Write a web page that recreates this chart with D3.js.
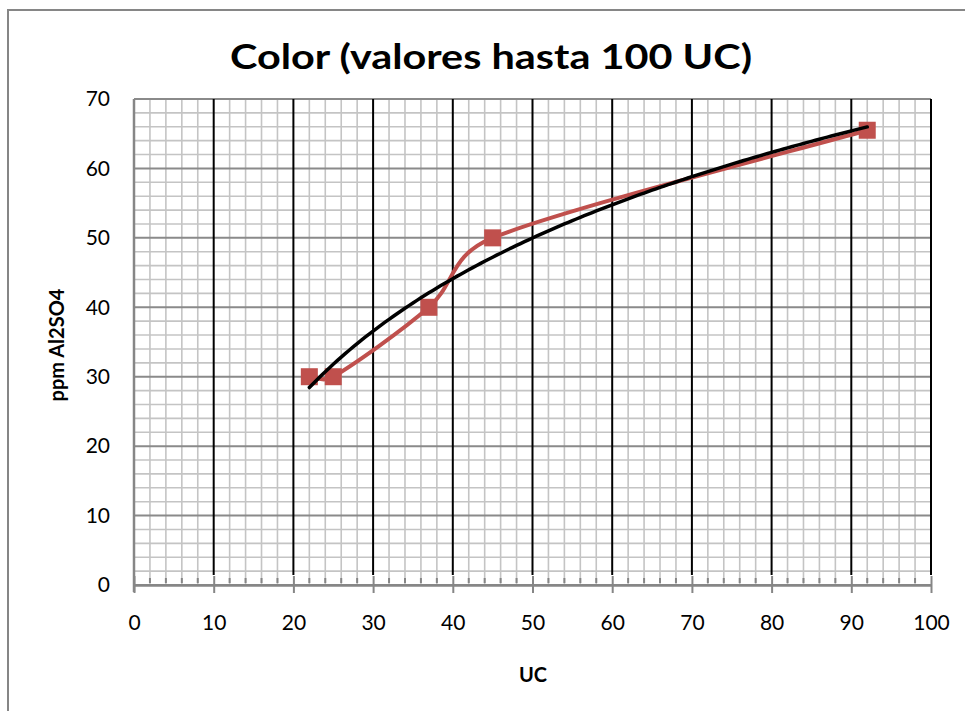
<!DOCTYPE html>
<html><head><meta charset="utf-8">
<script src="https://cdn.jsdelivr.net/npm/d3@7/dist/d3.min.js"></script>
<style>
html,body{margin:0;padding:0;background:#fff;}
svg{display:block;}
text{font-family:Lato,"Open Sans","Liberation Sans",sans-serif;fill:#000;}
</style></head>
<body>
<svg id="chart" width="965" height="711"></svg>
<script>
// ---- data ----
const ucValues  = [22, 25, 37, 45, 92];
const ppmValues = [30, 30, 40, 50, 65.5];
const xTickValues = [0, 10, 20, 30, 40, 50, 60, 70, 80, 90, 100];
const yTickValues = [0, 10, 20, 30, 40, 50, 60, 70];
const titleText = "Color (valores hasta 100 UC)";
const xTitle = "UC";
const yTitle = "ppm Al2SO4";

const svg = d3.select("#chart");
const W = 965, H = 711;
const margin = {left: 134, right: 34, top: 99, bottom: 126};
const x = d3.scaleLinear().domain([0, 100]).range([margin.left, W - margin.right]);
const y = d3.scaleLinear().domain([0, 70]).range([H - margin.bottom, margin.top]);

// outer chart border
svg.append("rect").attr("x", 8).attr("y", 10).attr("width", W + 20).attr("height", H + 20)
  .attr("fill", "#fff").attr("stroke", "#868686").attr("stroke-width", 2);

// minor grid
const minorX = d3.range(0, 101, 2).filter(v => v % 10 !== 0);
const minorY = d3.range(0, 71, 2).filter(v => v % 10 !== 0);
const g = svg.append("g");
g.selectAll(".mx").data(minorX).join("line")
  .attr("x1", d => x(d)).attr("x2", d => x(d)).attr("y1", y(70)).attr("y2", y(0))
  .attr("stroke", "#c4c4c4").attr("stroke-width", 1.6);
g.selectAll(".my").data(minorY).join("line")
  .attr("x1", x(0)).attr("x2", x(100)).attr("y1", d => y(d)).attr("y2", d => y(d))
  .attr("stroke", "#c4c4c4").attr("stroke-width", 1.6);
// major horizontal grid (grey)
g.selectAll(".My").data(yTickValues).join("line")
  .attr("x1", x(0)).attr("x2", x(100)).attr("y1", d => y(d)).attr("y2", d => y(d))
  .attr("stroke", "#8a8a8a").attr("stroke-width", 2);
// major vertical grid (black)
g.selectAll(".Mx").data(xTickValues.filter(v => v > 0)).join("line")
  .attr("x1", d => x(d)).attr("x2", d => x(d)).attr("y1", y(70)).attr("y2", y(0) - 10)
  .attr("stroke", "#000").attr("stroke-width", 2);

// x axis with D3
const xAxis = svg.append("g").attr("transform", `translate(0,${y(0)})`)
  .call(d3.axisBottom(x).tickValues(xTickValues).tickSize(8).tickPadding(22).tickSizeOuter(0));
xAxis.select(".domain").attr("stroke", "#868686").attr("stroke-width", 2.5);
xAxis.selectAll(".tick line").attr("stroke", "#868686").attr("stroke-width", 2).attr("y1", -9);
xAxis.selectAll(".tick text").style("font-size", "21px").attr("dy", "0.71em");
// minor ticks (inside)
xAxis.selectAll(".minor").data(minorX).join("line")
  .attr("x1", d => x(d)).attr("x2", d => x(d)).attr("y1", -7).attr("y2", -2)
  .attr("stroke", "#868686").attr("stroke-width", 2);

// y axis with D3
const yAxis = svg.append("g").attr("transform", `translate(${x(0)},0)`)
  .call(d3.axisLeft(y).tickValues(yTickValues).tickSize(0).tickPadding(24).tickSizeOuter(0));
yAxis.select(".domain").attr("stroke", "#868686").attr("stroke-width", 2.5)
  .attr("d", `M0,${y(70)}V${y(0) + 7}`);
yAxis.selectAll(".tick text").style("font-size", "21px");

// red smoothed series (spreadsheet-style Bezier smoothing, in screen space)
const pts = ucValues.map((v, i) => [v, ppmValues[i]]);
function smoothPath(data) {
  const p = data.map(d => [x(d[0]), y(d[1])]);
  const n = p.length;
  const path = d3.path();
  path.moveTo(p[0][0], p[0][1]);
  const dist = (a, b) => Math.hypot(b[0] - a[0], b[1] - a[1]);
  for (let i = 0; i < n - 1; i++) {
    const p0 = p[Math.max(i - 1, 0)], p1 = p[i], p2 = p[i + 1], p3 = p[Math.min(i + 2, n - 1)];
    const half = dist(p1, p2) / 2;
    let o1 = [(p2[0] - p0[0]) / 6, (p2[1] - p0[1]) / 6];
    let o2 = [(p3[0] - p1[0]) / 6, (p3[1] - p1[1]) / 6];
    const l1 = Math.hypot(o1[0], o1[1]), l2 = Math.hypot(o2[0], o2[1]);
    if (l1 > half) o1 = [o1[0] * half / l1, o1[1] * half / l1];
    if (l2 > half) o2 = [o2[0] * half / l2, o2[1] * half / l2];
    path.bezierCurveTo(p1[0] + o1[0], p1[1] + o1[1], p2[0] - o2[0], p2[1] - o2[1], p2[0], p2[1]);
  }
  return path.toString();
}
svg.append("path").attr("d", smoothPath(pts))
  .attr("fill", "none").attr("stroke", "#c0504d").attr("stroke-width", 4).attr("stroke-linejoin", "round");
const ms = 17;
svg.selectAll(".mk").data(pts).join("rect")
  .attr("x", d => x(d[0]) - ms / 2).attr("y", d => y(d[1]) - ms / 2)
  .attr("width", ms).attr("height", ms).attr("fill", "#c0504d");

// logarithmic trendline (least squares fit of the series, as in the spreadsheet)
const lx = ucValues.map(Math.log);
const mx = d3.mean(lx), my = d3.mean(ppmValues);
const a = d3.sum(lx, (v, i) => (v - mx) * (ppmValues[i] - my)) / d3.sum(lx, v => (v - mx) * (v - mx));
const b = my - a * mx;
const [xmin, xmax] = d3.extent(ucValues);
const trend = d3.range(xmin, xmax + 0.001, 0.5).map(v => [v, a * Math.log(v) + b]);
svg.append("path").datum(trend).attr("d", d3.line().x(d => x(d[0])).y(d => y(d[1])))
  .attr("fill", "none").attr("stroke", "#000").attr("stroke-width", 3.5).attr("stroke-linecap", "round");

// titles
svg.append("text").attr("x", 491).attr("y", 69).attr("text-anchor", "middle")
  .attr("textLength", 522).attr("lengthAdjust", "spacingAndGlyphs")
  .style("font-size", "35px").style("font-weight", "bold").text(titleText);
svg.append("text").attr("x", 533).attr("y", 682).attr("text-anchor", "middle")
  .style("font-size", "20px").style("font-weight", "bold").text(xTitle);
svg.append("text").attr("transform", "translate(64,345) rotate(-90)").attr("text-anchor", "middle")
  .style("font-size", "20px").style("font-weight", "bold").text(yTitle);
</script>
</body></html>
